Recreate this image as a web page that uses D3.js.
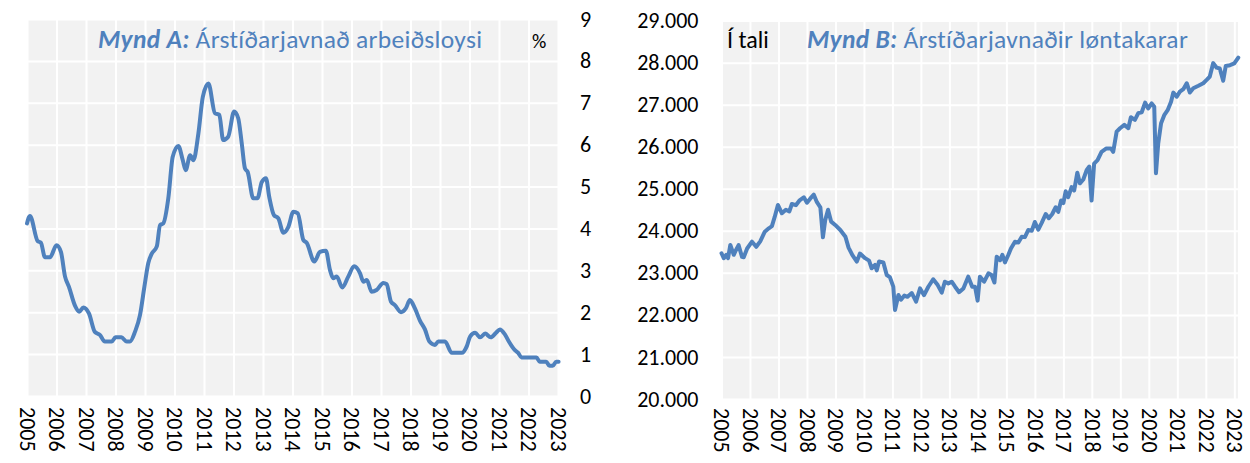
<!DOCTYPE html>
<html><head><meta charset="utf-8">
<script src="https://cdn.jsdelivr.net/npm/d3@7/dist/d3.min.js"></script>
<style>
body{margin:0;background:#fff;}
text{font-family:Carlito,Calibri,Lato,sans-serif;}
</style></head>
<body><svg id="chart" width="1250" height="463"></svg>
<script>
// ---------- DATA ----------
const yearLabels = ["2005","2006","2007","2008","2009","2010","2011","2012","2013","2014","2015","2016","2017","2018","2019","2020","2021","2022","2023"];
const ticksA = [0,1,2,3,4,5,6,7,8,9];
const ticksB = [20000,21000,22000,23000,24000,25000,26000,27000,28000,29000];

// Mynd A: seasonally adjusted unemployment (%), date as decimal year
const datesA = [2005.00,2005.10,2005.36,2005.47,2005.61,2005.78,2006.00,2006.15,2006.29,2006.42,2006.63,2006.77,2006.91,2007.10,2007.30,2007.47,2007.64,2007.87,2008.00,2008.20,2008.38,2008.49,2008.66,2008.83,2008.98,2009.11,2009.23,2009.40,2009.51,2009.62,2009.79,2009.94,2010.13,2010.28,2010.38,2010.53,2010.64,2010.81,2010.96,2011.15,2011.37,2011.52,2011.65,2011.82,2012.02,2012.16,2012.28,2012.39,2012.48,2012.67,2012.81,2012.96,2013.10,2013.21,2013.37,2013.52,2013.69,2013.86,2014.03,2014.18,2014.37,2014.48,2014.74,2014.93,2015.13,2015.27,2015.38,2015.50,2015.69,2015.89,2016.09,2016.29,2016.40,2016.52,2016.68,2016.85,2017.08,2017.19,2017.34,2017.47,2017.68,2017.84,2017.98,2018.15,2018.32,2018.49,2018.64,2018.83,2018.94,2019.17,2019.40,2019.74,2019.91,2020.02,2020.19,2020.36,2020.53,2020.72,2020.90,2021.03,2021.20,2021.36,2021.53,2021.65,2021.76,2022.27,2022.38,2022.60,2022.71,2022.82,2022.94,2023.02];
const valuesA = [4.12,4.30,3.70,3.66,3.31,3.31,3.60,3.44,2.85,2.61,2.15,2.01,2.11,1.97,1.53,1.46,1.30,1.30,1.40,1.40,1.30,1.30,1.53,1.93,2.61,3.17,3.40,3.57,4.08,4.12,4.72,5.71,5.97,5.63,5.39,5.75,5.63,6.27,7.14,7.46,6.75,6.71,6.11,6.19,6.79,6.63,6.03,5.43,5.35,4.72,4.72,5.11,5.20,4.76,4.32,4.24,3.90,4.04,4.40,4.36,3.72,3.66,3.21,3.44,3.47,3.01,2.81,2.85,2.59,2.85,3.10,2.93,2.73,2.77,2.49,2.53,2.70,2.67,2.25,2.17,2.00,2.09,2.29,2.09,1.80,1.59,1.30,1.22,1.30,1.30,1.03,1.03,1.19,1.42,1.51,1.40,1.49,1.40,1.51,1.59,1.47,1.27,1.10,1.03,0.92,0.92,0.82,0.82,0.72,0.72,0.82,0.82];

// Mynd B: seasonally adjusted wage earners (count)
const datesB = [2005.00,2005.08,2005.17,2005.23,2005.31,2005.43,2005.51,2005.60,2005.72,2005.78,2005.90,2006.07,2006.22,2006.36,2006.52,2006.66,2006.77,2006.87,2006.98,2007.12,2007.26,2007.38,2007.47,2007.61,2007.73,2007.89,2008.00,2008.12,2008.24,2008.35,2008.47,2008.56,2008.64,2008.74,2008.85,2008.99,2009.17,2009.35,2009.46,2009.59,2009.75,2009.86,2010.04,2010.18,2010.27,2010.39,2010.45,2010.53,2010.68,2010.80,2010.91,2011.03,2011.09,2011.21,2011.30,2011.42,2011.53,2011.68,2011.83,2011.97,2012.11,2012.26,2012.43,2012.59,2012.73,2012.84,2012.96,2013.08,2013.20,2013.34,2013.49,2013.66,2013.80,2013.90,2013.99,2014.07,2014.22,2014.37,2014.48,2014.58,2014.66,2014.78,2014.86,2014.95,2015.07,2015.16,2015.30,2015.42,2015.54,2015.65,2015.77,2015.89,2016.00,2016.12,2016.24,2016.38,2016.49,2016.61,2016.73,2016.82,2016.92,2017.00,2017.08,2017.17,2017.29,2017.38,2017.49,2017.58,2017.70,2017.82,2017.91,2017.99,2018.08,2018.20,2018.34,2018.51,2018.67,2018.75,2018.87,2018.99,2019.14,2019.28,2019.37,2019.51,2019.63,2019.75,2019.87,2019.98,2020.10,2020.19,2020.25,2020.33,2020.43,2020.54,2020.66,2020.78,2020.86,2020.98,2021.09,2021.21,2021.33,2021.44,2021.56,2021.74,2021.91,2022.03,2022.14,2022.26,2022.38,2022.49,2022.61,2022.70,2022.85,2023.00,2023.14];
const valuesB = [23466,23347,23430,23350,23664,23430,23545,23660,23380,23370,23580,23742,23620,23750,23980,24060,24110,24337,24615,24417,24500,24460,24638,24610,24717,24798,24670,24770,24860,24680,24560,23847,24250,24500,24218,24140,24020,23860,23600,23426,23267,23460,23350,23290,23110,23190,23060,23270,23250,22950,22900,22672,22118,22474,22360,22460,22430,22520,22316,22630,22470,22670,22848,22710,22530,22790,22750,22790,22670,22540,22630,22910,22670,22670,22340,22910,22790,22990,22950,22770,23385,23300,23430,23250,23430,23580,23740,23720,23860,23850,24020,24000,24210,24030,24190,24401,24300,24400,24560,24450,24720,24660,24940,24800,25040,24960,25383,25130,25220,25450,25530,24720,25600,25680,25880,25960,25960,25880,26358,26440,26520,26440,26700,26640,26800,26820,27048,26910,27030,26950,25369,26080,26560,26750,26870,27070,27288,27190,27310,27370,27510,27290,27390,27450,27510,27590,27670,27990,27880,27860,27570,27920,27940,27980,28120];

// ---------- STYLE ----------
const BLUE = "#4F81BD", GREY = "#F2F2F2", FS = 22;
const svg = d3.select("#chart");
const years = yearLabels.map(Number);
const loc = d3.formatLocale({decimal:",", thousands:".", grouping:[3], currency:["",""]});
const fmtB = loc.format(",");

function panel(o){
  const g = svg.append("g");
  const x = d3.scaleLinear().domain(o.xDomain).range(o.xRange);
  const y = d3.scaleLinear().domain(o.yDomain).range(o.yRange);
  const [x0,x1] = o.xRange, [yb,yt] = o.yRange;
  g.append("rect").attr("x",x0).attr("y",yt).attr("width",x1-x0).attr("height",yb-yt).attr("fill",GREY);
  // vertical grid
  g.append("g").attr("transform",`translate(0,${yb})`)
    .call(d3.axisBottom(x).tickValues(years).tickSize(-(yb-yt)).tickFormat(""))
    .call(s=>{s.select(".domain").remove(); s.selectAll("line").attr("stroke","#fff").attr("stroke-width",2);});
  // horizontal grid
  g.append("g").attr("transform",`translate(${x0},0)`)
    .call(d3.axisLeft(y).tickValues(o.yTicks).tickSize(-(x1-x0)).tickFormat(""))
    .call(s=>{s.select(".domain").remove(); s.selectAll("line").attr("stroke","#fff").attr("stroke-width",2);});
  // x labels (rotated)
  const xa = g.append("g").attr("transform",`translate(0,${yb})`)
    .call(d3.axisBottom(x).tickValues(years).tickSize(0).tickFormat((d,i)=>yearLabels[i]));
  xa.select(".domain").remove();
  xa.selectAll("text").attr("font-size",FS).attr("fill","#000").attr("font-family",null)
    .attr("text-anchor","start").attr("transform","rotate(90)").attr("x",o.xlab).attr("y",0).attr("dy","0.35em");
  // y labels
  const ax = o.yRight ? d3.axisRight(y) : d3.axisLeft(y);
  const ya = g.append("g").attr("transform",`translate(${o.yRight ? x1 : x0},0)`)
    .call(ax.tickValues(o.yTicks).tickSize(0).tickPadding(o.pad).tickFormat(o.fmt));
  ya.select(".domain").remove();
  ya.selectAll("text").attr("font-size",FS).attr("fill","#000").attr("font-family",null);
  // line
  const line = d3.line().x(d=>x(d[0])).y(d=>y(d[1])).curve(o.curve);
  g.append("path").datum(d3.zip(o.dates,o.values)).attr("d",line)
    .attr("fill","none").attr("stroke",BLUE).attr("stroke-width",4)
    .attr("stroke-linejoin","round").attr("stroke-linecap","round");
  return g;
}

panel({xDomain:[2005,2023], xRange:[27,558], yDomain:[0,9], yRange:[396,19], yTicks:ticksA,
  yRight:true, pad:22, xlab:11, fmt:d3.format("d"), dates:datesA, values:valuesA, curve:d3.curveMonotoneX});
panel({xDomain:[2005,2023.13], xRange:[721.5,1238], yDomain:[20000,29000], yRange:[399,20.6], yTicks:ticksB,
  yRight:false, pad:23, xlab:9, fmt:fmtB, dates:datesB, values:valuesB, curve:d3.curveLinear});

// titles
const tA = svg.append("text").attr("x",98).attr("y",48).attr("font-size",25.5).attr("letter-spacing",0.3).attr("fill",BLUE);
tA.append("tspan").attr("font-weight","bold").attr("font-style","italic").text("Mynd A:");
tA.append("tspan").text(" Árstíðarjavnað arbeiðsloysi");
svg.append("text").attr("x",532).attr("y",48).attr("font-size",20).attr("fill","#000").text("%");

const tB = svg.append("text").attr("x",807).attr("y",48).attr("font-size",25.5).attr("letter-spacing",0.3).attr("fill",BLUE);
tB.append("tspan").attr("font-weight","bold").attr("font-style","italic").text("Mynd B:");
tB.append("tspan").text(" Árstíðarjavnaðir løntakarar");
svg.append("text").attr("x",727).attr("y",48).attr("font-size",24).attr("fill","#000").text("Í tali");
</script></body></html>
